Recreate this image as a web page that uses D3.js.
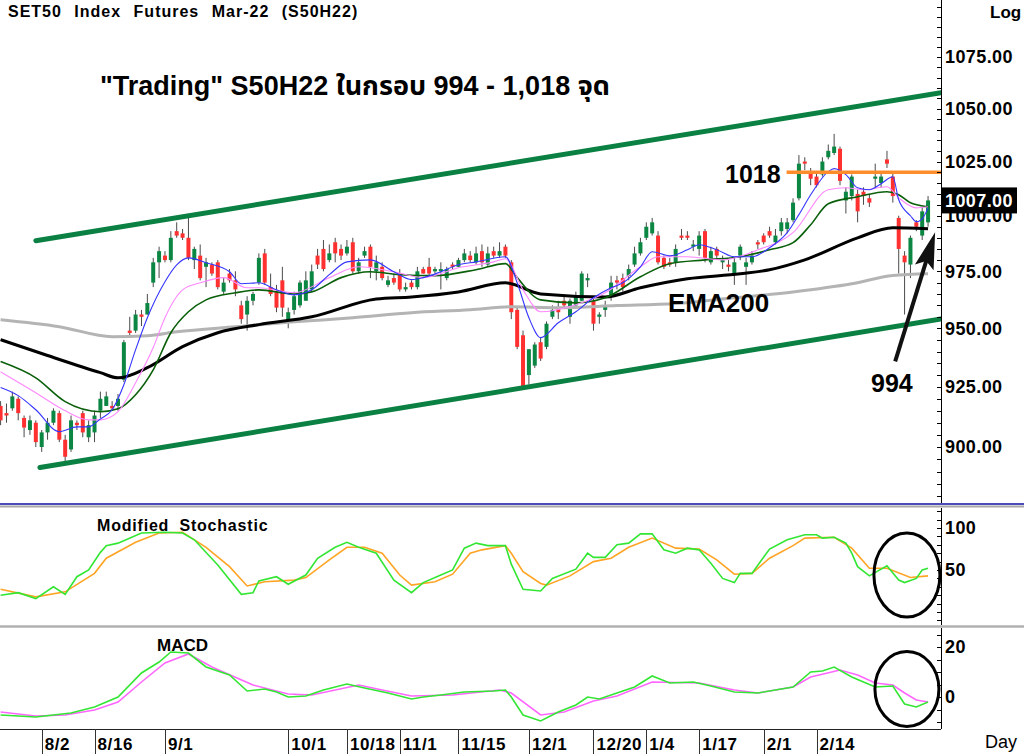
<!DOCTYPE html>
<html lang="th">
<head>
<meta charset="UTF-8">
<title>SET50 Index Futures Mar-22 (S50H22)</title>
<style>
    body { margin: 0; background: #fff; }
    svg text { font-family: "Liberation Sans", Arial, "Noto Sans Thai", "Noto Sans", sans-serif; }
    .b { font-weight: bold; }
</style>
<script src="https://d3js.org/d3.v7.min.js"></script>
</head>
<body>
<svg id="chart" width="1024" height="754"></svg>
<script>
// ---- daily candles (trading day index 0..158) ----
const opens = [917,914,916,920,912,907,910,900,906,910, 914,903,899,910,914,904,906,915,917,917,
    917,928,949,949,956,956,970,979,982,980, 993,992,990,980,982,977,978,979,966,974,
    971,960,956,962,970,983,968,966,971,953, 958,960,962,967,982,985,980,988,985,983,
    988,975,982,986,975,977,969,972,974,967, 970,968,976,977,975,975,972,978,977,980,
    982,979,984,978,984,982,986,979,958,947, 930,934,944,942,955,959,962,955,960,962,
    971,962,955,958,964,971,972,973,978,983, 990,992,991,981,979,979,991,991,986,985,
    993,979,985,979,978,974,982,977,979,988, 991,993,988,993,994,998,1008,1025,1020,1018,
    1019,1027,1029,1031,1007,1009,1010,1011,1008,1017, 1015,1026,1018,999,982,978,997,991,997];
const highs = [919,918,923,921,913,913,911,907,912,916, 915,905,913,911,915,911,915,923,923,919,
    922,945,955,958,958,965,981,986,984,993, 997,994,999,986,987,981,979,980,972,976,
    975,962,964,966,983,985,974,969,977,959, 966,971,975,978,985,989,987,990,987,989,
    990,981,986,987,982,979,973,974,976,970, 971,977,977,981,977,979,977,979,981,985,
    984,986,987,986,986,988,987,980,959,949, 941,944,946,953,960,962,964,963,966,975,
    974,963,957,962,973,973,974,978,986,990, 997,999,993,982,981,987,994,993,989,993,
    994,986,986,982,980,981,987,981,984,989, 992,995,994,999,999,1008,1028,1027,1022,1020,
    1027,1033,1038,1032,1013,1019,1012,1013,1010,1024, 1020,1030,1020,1000,984,991,998,1004,1009];
const lows = [909,910,915,911,904,905,900,898,903,909, 902,893,898,907,904,902,902,912,917,915,
    915,927,946,948,951,956,968,972,979,979, 990,989,980,976,971,968,973,967,965,970,
    964,952,949,960,969,969,964,957,955,950, 956,959,962,966,976,975,979,979,980,982,
    974,974,981,972,971,971,968,969,966,966, 967,967,974,973,974,967,971,976,977,979,
    979,978,977,977,981,981,981,954,941,925, 926,933,936,941,954,954,959,952,959,962,
    968,949,952,955,962,967,966,971,977,982, 989,991,978,976,977,977,989,989,984,982,
    979,978,981,976,975,969,980,969,978,985, 987,990,987,991,992,997,1007,1021,1014,1013,
    1018,1026,1028,1014,1001,1007,997,1005,1004,1013, 1013,1022,1006,974,956,972,993,989,995];
const closes = [911,913,921,914,908,911,902,906,910,915, 903,896,911,909,906,909,913,920,921,916,
    920,944,948,956,955,961,979,984,980,990, 991,990,981,985,972,979,974,968,970,971,
    967,954,962,965,981,970,965,959,959,957, 964,970,971,975,978,976,983,983,982,986,
    975,979,984,977,979,972,971,970,967,968, 968,975,974,974,976,976,976,977,980,983,
    980,983,979,983,982,984,982,957,942,925, 941,943,937,952,958,957,960,962,964,974,
    972,952,956,960,970,970,968,976,983,988, 995,997,979,977,978,985,990,990,987,991,
    981,984,982,980,977,979,986,979,982,987, 988,991,991,997,997,1006,1024,1024,1017,1014,
    1025,1030,1032,1016,1011,1018,1002,1009,1006,1018, 1018,1024,1009,985,979,990,995,1002,1007];

// ---- date ticks ----
const tickIndex = [7, 16, 28, 49, 59, 68, 78, 90, 101, 110, 119, 130, 139];
const tickLabels = ["8/2", "8/16", "9/1", "10/1", "10/18", "11/1", "11/15", "12/1", "12/20", "1/4", "1/17", "2/1", "2/14"];

// ---- moving averages [day index, price] ----
const ema5 = [[0,924.7],[3,921.3],[6,915.4],[10,906.3],[13,908.3],[15,908.3],[17,911.6],[19,915.4],[21,925.9],[23,940.8],
    [25,954.6],[28,970.4],[30,977.9],[32,981],[35,978.8],[39,974.8],[41,969.5],[44,969.9],[47,966.8],[50,964.6],
    [53,966.8],[56,973.5],[59,979.2],[63,980.1],[67,974.8],[70,971.3],[72,972.2],[75,974.8],[78,977.9],[81,979.2],
    [86,981.5],[88,969.9],[90,954.6],[92,946],[95,952.4],[98,957.2],[101,963.3],[104,967.7],[106,969.9],[109,977],
    [111,983.7],[114,981.9],[117,984.6],[119,986.9],[122,984.6],[125,981.5],[128,981.5],[131,985.5],[134,992.3],[136,1000.5],
    [138,1009.6],[141,1020.3],[142,1021.7],[144,1018.9],[146,1012.8],[148,1011.9],[150,1014.7],[152,1017.9],[153,1007.3],[155,1000],
    [156,997.3],[157,998.6],[158,1003.6]];
const ema10 = [[0,931.4],[6,922.5],[11,915],[15,911.2],[17,911.2],[20,914.6],[23,926.7],[26,941.7],[28,954.6],[31,966.8],
    [34,969.9],[38,972.2],[42,967.7],[44,967.7],[50,965.5],[56,972.2],[61,977],[67,974.8],[72,972.2],[78,976.6],
    [84,979.2],[86,980.6],[89,966.8],[92,957.2],[98,960.3],[103,965.5],[109,977],[112,981.5],[117,981.5],[123,980.1],
    [129,984.6],[135,992.3],[141,1011.9],[144,1012.8],[147,1011.9],[151,1013.3],[153,1008.2],[156,1003.6],[158,1004.1]];
const ema25 = [[0,935.7],[6,928.8],[11,918.8],[17,914.6],[20,915.8],[23,921.7],[26,932.2],[29,948.1],[32,957.2],[35,962.4],
    [40,965.5],[44,966.8],[50,965],[53,965.9],[58,972.2],[63,974.8],[68,973.5],[74,973.1],[81,975.7],[86,978.4],
    [88,972.2],[92,962.4],[98,961.1],[103,963.3],[109,972.6],[114,978.4],[120,980.1],[126,981.5],[131,984.6],[135,987.8],
    [138,995.9],[141,1005.5],[146,1008.7],[151,1011],[153,1009.6],[155,1005.9],[158,1004.1]];
const ema75 = [[0,945.1],[8,938.3],[17,931],[20,928.8],[25,933.1],[31,942.1],[37,948.1],[44,951.6],[53,955],[64,962.8],
    [70,963.7],[78,965.9],[86,969.9],[92,965],[103,963.7],[109,967.7],[117,971.7],[126,973.9],[131,975.7],[137,980.1],
    [146,990],[152,994.5],[158,994.1]];
const ema200 = [[0,953.7],[10,950.7],[19,946.4],[25,946.8],[30,948.5],[40,950.7],[50,952.8],[60,954.6],[70,956.8],[80,958.1],
    [87,959.4],[95,959],[105,959.9],[115,960.8],[125,963.3],[135,965.9],[145,969.5],[152,973.1],[158,973.9]];

// ---- trend channel, resistance, arrow [day index, price] ----
const upperChannel = [[6, 988.7], [160.2, 1057.6]];
const lowerChannel = [[6.7, 891.6], [160.2, 954.1]];
const resistLine = [[133.9, 1020], [160.2, 1020]];
const arrowPts = [[152.4, 935.8], [159.2, 992.5]];

// ---- Modified Stochastic [day index, value] ----
const stochFast = [[0,20],[3,23],[6,16],[9,30],[11,21],[13,42],[15,50],[17,71],[18,79],[20,82],[24,94],[28,95],[31,94],[33,86],
    [37,56],[41,21],[43,23],[44,37],[47,42],[49,33],[52,44],[54,64],[57,77],[59,83],[61,77],[64,70],[67,38],[70,23],
    [72,35],[75,44],[77,50],[79,76],[81,82],[83,79],[86,79],[87,57],[89,27],[92,25],[94,40],[98,51],[100,70],[101,65],
    [103,65],[105,80],[107,82],[109,93],[111,93],[113,74],[115,70],[117,76],[119,74],[121,58],[123,40],[125,35],[126,46],
    [128,46],[131,75],[134,86],[137,92],[139,92],[140,88],[142,89],[144,82],[145,70],[146,54],[148,43],[151,55],[153,38],
    [154,35],[156,40],[157,50],[158,52]];
const stochSlow = [[0,27],[6,18],[11,24],[16,46],[18,64],[23,83],[27,94],[31,95],[35,77],[39,54],[42,31],[45,36],[50,38],
    [52,41],[56,62],[59,77],[62,77],[65,70],[68,44],[70,32],[74,36],[77,45],[80,70],[82,74],[86,79],[87,70],[89,48],[92,34],
    [93,32],[97,43],[101,60],[104,64],[107,77],[111,88],[115,76],[119,75],[122,62],[125,45],[128,46],[131,64],[135,79],
    [137,88],[142,89],[145,76],[148,52],[151,52],[155,41],[158,43]];

// ---- MACD [day index, value] ----
const macdLine = [[0,-7.2],[6,-8],[9,-7.2],[12,-6.4],[16,-4],[20,0],[24,9.6],[27,14],[29,18],[32,17.6],[35,12],[39,8.8],
    [42,2.4],[45,3.2],[47,2],[49,0],[52,0.4],[55,2.8],[59,5.2],[62,3.6],[66,1.6],[70,-0.8],[72,0],[75,0.8],[79,2],[84,2.4],
    [86,2.8],[87,0],[89,-7.2],[92,-9.6],[95,-6],[98,-3.2],[100,0],[102,-0.8],[105,1.6],[108,4],[111,8.4],[114,5.6],[118,6],
    [121,4.4],[125,2],[129,1.6],[133,3.2],[135,4],[138,10],[140,10.4],[142,12],[145,8],[149,4],[152,4.4],[154,-2.8],[156,-4],[158,-2]];
const macdSignal = [[0,-6],[6,-7.6],[11,-7.2],[16,-5.2],[20,-2],[24,6],[28,13.6],[32,17.2],[36,12],[43,4.8],[49,1.2],[53,0.8],
    [61,4.8],[65,2.8],[70,0.4],[77,0.8],[85,2.8],[87,1.6],[92,-7.2],[96,-6],[101,-1.6],[105,0.4],[111,6],[119,5.6],[125,2.8],
    [129,1.6],[135,4],[138,8],[143,10.8],[146,8.8],[149,5.6],[152,4.8],[154,1.6],[156,-1.2],[158,-2]];

// annotation ellipses: centre in data units, radii in px
const stochRing = {i: 154.4, v: 44, rx: 33, ry: 42};
const macdRing = {i: 154.4, v: 3.2, rx: 32, ry: 37.5};

// ---------------- layout ----------------
let axisX = 941,
    price = {top: 0, bottom: 503},
    stoch = {top: 508, bottom: 625},
    macd = {top: 628, bottom: 729};

let svg = d3.select("#chart");
svg.append("rect").attr("width", 1024).attr("height", 754).attr("fill", "#fff");

let x = d3.scaleLinear().domain([0, 158]).range([0.6, 928.06]);
let y = d3.scaleLog().domain([900, 1075]).range([447, 57]);
let yS = d3.scaleLinear().domain([0, 100]).range([612, 528]);
let yM = d3.scaleLinear().domain([0, 20]).range([697, 647]);

let defs = svg.append("defs");
[["clipP", price], ["clipS", stoch], ["clipM", macd]].forEach(function(c) {
    defs.append("clipPath").attr("id", c[0]).append("rect")
        .attr("x", 0).attr("y", c[1].top).attr("width", axisX).attr("height", c[1].bottom - c[1].top);
});

let gP = svg.append("g").attr("clip-path", "url(#clipP)");

// candles
let candles = closes.map((c, i) => ({i: i, o: opens[i], h: highs[i], l: lows[i], c: c}));
gP.append("g").selectAll("line").data(candles).join("line")
    .attr("x1", d => x(d.i)).attr("x2", d => x(d.i))
    .attr("y1", d => y(d.h)).attr("y2", d => y(d.l))
    .attr("stroke", "#4a4a4a").attr("stroke-width", 1);
gP.append("g").selectAll("rect").data(candles).join("rect")
    .attr("x", d => x(d.i) - 2)
    .attr("y", d => y(Math.max(d.o, d.c)))
    .attr("width", 4)
    .attr("height", d => Math.max(1.5, Math.abs(y(d.o) - y(d.c))))
    .attr("fill", d => d.c >= d.o ? "#0b8743" : "#ff3030");

// moving averages
let maLine = d3.line().x(d => x(d[0])).y(d => y(d[1])).curve(d3.curveMonotoneX);
[[ema200, "#b4b4b4", 3], [ema75, "#000", 3], [ema25, "#0a5f0a", 1.6], [ema10, "#ff88ff", 1.1], [ema5, "#3535ff", 1.1]]
    .forEach(function(s) {
        gP.append("path").datum(s[0]).attr("d", maLine)
            .attr("fill", "none").attr("stroke", s[1]).attr("stroke-width", s[2]);
    });

// channel + resistance + arrow
let straight = d3.line().x(d => x(d[0])).y(d => y(d[1]));
[upperChannel, lowerChannel].forEach(function(c) {
    gP.append("path").datum(c).attr("d", straight)
        .attr("stroke", "#0b8043").attr("stroke-width", 5).attr("stroke-linecap", "round");
});
gP.append("path").datum(resistLine).attr("d", straight)
    .attr("stroke", "#ff8c2a").attr("stroke-width", 3.5);

let a0 = [x(arrowPts[0][0]), y(arrowPts[0][1])],
    a1 = [x(arrowPts[1][0]), y(arrowPts[1][1])],
    ang = Math.atan2(a1[1] - a0[1], a1[0] - a0[0]);
function off(len, da) { return [a1[0] - len * Math.cos(ang + da), a1[1] - len * Math.sin(ang + da)]; }
svg.append("line")
    .attr("x1", a0[0]).attr("y1", a0[1])
    .attr("x2", off(12, 0)[0]).attr("y2", off(12, 0)[1])
    .attr("stroke", "#111").attr("stroke-width", 4);
svg.append("polygon")
    .attr("points", [a1, off(38, 0.26), off(30, 0), off(38, -0.26)].map(p => p.join(",")).join(" "))
    .attr("fill", "#111");

// price axis
svg.append("line").attr("x1", axisX + 0.5).attr("x2", axisX + 0.5).attr("y1", 0).attr("y2", price.bottom)
    .attr("stroke", "#000");
svg.append("g").selectAll("line").data(d3.range(880, 1105, 5)).join("line")
    .attr("x1", axisX - 4).attr("x2", axisX)
    .attr("y1", d => Math.round(y(d)) + 0.5).attr("y2", d => Math.round(y(d)) + 0.5)
    .attr("stroke", "#000");
svg.append("g").selectAll("text").data(d3.range(900, 1076, 25)).join("text")
    .attr("class", "b").attr("x", axisX + 4).attr("y", d => y(d)).attr("dy", "0.36em")
    .style("font-size", "18px").style("letter-spacing", "0.4px")
    .text(d3.format(".2f"));
svg.append("text").attr("class", "b").attr("x", 990).attr("y", 18).style("font-size", "17px").text("Log");

// last price box
let last = closes[closes.length - 1];
svg.append("rect").attr("x", axisX).attr("y", y(last) - 13).attr("width", 76).attr("height", 26).attr("fill", "#000");
svg.append("text").attr("class", "b").attr("x", axisX + 4).attr("y", y(last)).attr("dy", "0.36em")
    .attr("fill", "#fff").style("font-size", "18px").style("letter-spacing", "0.4px")
    .text(d3.format(".2f")(last));

// texts on the price panel
svg.append("text").attr("class", "b").attr("x", 8).attr("y", 17)
    .style("font-size", "16px").style("letter-spacing", "1px").style("word-spacing", "7px")
    .text("SET50 Index Futures Mar-22 (S50H22)");
svg.append("text").attr("class", "b").attr("x", 100).attr("y", 95)
    .style("font-size", "27px")
    .text("\"Trading\" S50H22 ในกรอบ 994 - 1,018 จุด");
svg.append("text").attr("class", "b").attr("x", 725).attr("y", 183).style("font-size", "25px").text("1018");
svg.append("text").attr("class", "b").attr("x", 668).attr("y", 312).style("font-size", "26px").text("EMA200");
svg.append("text").attr("class", "b").attr("x", 871).attr("y", 392).style("font-size", "25px").text("994");

// panel separators
svg.append("line").attr("x1", 0).attr("x2", 1024).attr("y1", 504).attr("y2", 504)
    .attr("stroke", "#1010a0").attr("stroke-width", 1.5);
svg.append("line").attr("x1", 0).attr("x2", 1024).attr("y1", 506.5).attr("y2", 506.5)
    .attr("stroke", "#a8a8a8").attr("stroke-width", 2);
svg.append("line").attr("x1", 0).attr("x2", 1024).attr("y1", 626.5).attr("y2", 626.5)
    .attr("stroke", "#b0b0b0").attr("stroke-width", 2.5);
svg.append("line").attr("x1", 0).attr("x2", axisX).attr("y1", macd.bottom + 0.5).attr("y2", macd.bottom + 0.5)
    .attr("stroke", "#222");

// ---- stochastic panel ----
let gS = svg.append("g").attr("clip-path", "url(#clipS)");
let sLine = d3.line().x(d => x(d[0])).y(d => yS(d[1]));
gS.append("path").datum(stochSlow).attr("d", sLine).attr("fill", "none").attr("stroke", "#ffa424").attr("stroke-width", 1.6);
gS.append("path").datum(stochFast).attr("d", sLine).attr("fill", "none").attr("stroke", "#33e633").attr("stroke-width", 1.6);
svg.append("ellipse").attr("cx", x(stochRing.i)).attr("cy", yS(stochRing.v))
    .attr("rx", stochRing.rx).attr("ry", stochRing.ry)
    .attr("fill", "none").attr("stroke", "#000").attr("stroke-width", 3);
svg.append("text").attr("class", "b").attr("x", 97).attr("y", 531)
    .style("font-size", "16px").style("letter-spacing", "0.8px").style("word-spacing", "5px").text("Modified Stochastic");

svg.append("line").attr("x1", axisX + 0.5).attr("x2", axisX + 0.5).attr("y1", stoch.top).attr("y2", stoch.bottom)
    .attr("stroke", "#000");
svg.append("g").selectAll("line").data(d3.range(-10, 121, 10)).join("line")
    .attr("x1", axisX - 4).attr("x2", axisX)
    .attr("y1", d => Math.round(yS(d)) + 0.5).attr("y2", d => Math.round(yS(d)) + 0.5)
    .attr("stroke", "#000");
svg.append("g").selectAll("text").data([50, 100]).join("text")
    .attr("class", "b").attr("x", axisX + 4).attr("y", d => yS(d)).attr("dy", "0.36em")
    .style("font-size", "18px").style("letter-spacing", "0.4px").text(d => d);

// ---- MACD panel ----
let gM = svg.append("g").attr("clip-path", "url(#clipM)");
let mLine = d3.line().x(d => x(d[0])).y(d => yM(d[1]));
gM.append("path").datum(macdSignal).attr("d", mLine).attr("fill", "none").attr("stroke", "#ff66ff").attr("stroke-width", 1.6);
gM.append("path").datum(macdLine).attr("d", mLine).attr("fill", "none").attr("stroke", "#33e633").attr("stroke-width", 1.6);
svg.append("ellipse").attr("cx", x(macdRing.i)).attr("cy", yM(macdRing.v))
    .attr("rx", macdRing.rx).attr("ry", macdRing.ry)
    .attr("fill", "none").attr("stroke", "#000").attr("stroke-width", 3);
svg.append("text").attr("class", "b").attr("x", 157).attr("y", 651).style("font-size", "17px").text("MACD");

svg.append("line").attr("x1", axisX + 0.5).attr("x2", axisX + 0.5).attr("y1", macd.top).attr("y2", macd.bottom)
    .attr("stroke", "#000");
svg.append("g").selectAll("line").data(d3.range(-10, 26, 5)).join("line")
    .attr("x1", axisX - 4).attr("x2", axisX)
    .attr("y1", d => Math.round(yM(d)) + 0.5).attr("y2", d => Math.round(yM(d)) + 0.5)
    .attr("stroke", "#000");
svg.append("g").selectAll("text").data([0, 20]).join("text")
    .attr("class", "b").attr("x", axisX + 4).attr("y", d => yM(d)).attr("dy", "0.36em")
    .style("font-size", "18px").style("letter-spacing", "0.4px").text(d => d);

// ---- date axis ----
let gT = svg.append("g");
gT.selectAll("line").data(tickIndex).join("line")
    .attr("x1", d => Math.round(x(d)) + 0.5).attr("x2", d => Math.round(x(d)) + 0.5)
    .attr("y1", macd.bottom).attr("y2", 754)
    .attr("stroke", "#333");
gT.selectAll("text").data(tickIndex).join("text")
    .attr("class", "b").attr("x", d => x(d) + 3).attr("y", 750)
    .style("font-size", "17px").style("letter-spacing", "0.6px")
    .text((d, i) => tickLabels[i]);
svg.append("text").attr("x", 985).attr("y", 748).style("font-size", "18px").text("Day");
</script>
</body>
</html>
